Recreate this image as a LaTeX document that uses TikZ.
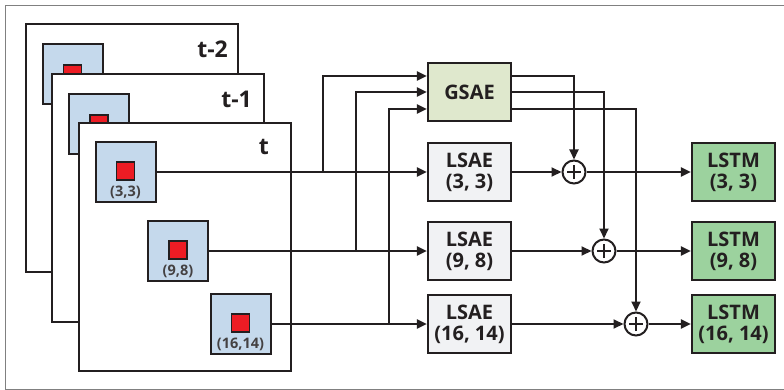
\documentclass[tikz,border=0pt]{standalone}
\usepackage{fontspec}
\setmainfont{Open Sans}
\usetikzlibrary{arrows.meta,calc}
\definecolor{ink}{HTML}{231F20}
\definecolor{patchblue}{HTML}{C5D9EC}
\definecolor{redsq}{HTML}{ED1C24}
\definecolor{gsaefill}{HTML}{DFE8CD}
\definecolor{lsaefill}{HTML}{F1F2F4}
\definecolor{lstmfill}{HTML}{9CD29E}
\definecolor{bordergray}{HTML}{808080}
\begin{document}
\begin{tikzpicture}[x=1pt,y=-1pt,
  frame/.style={draw=ink,line width=2.6pt,fill=white,minimum width=212pt,minimum height=248pt,inner sep=0pt},
  patch/.style={draw=ink,line width=2pt,fill=patchblue,minimum size=60pt,inner sep=0pt},
  redbox/.style={draw=ink,line width=1.8pt,fill=redsq,minimum size=18pt,inner sep=0pt},
  plabel/.style={font=\bfseries\fontsize{14.5}{16}\selectfont,text=ink!85,inner sep=0pt},
  flabel/.style={font=\bfseries\fontsize{23}{26}\selectfont,text=ink,inner sep=0pt},
  block/.style={draw=ink,line width=2.2pt,minimum width=83pt,minimum height=58pt,inner sep=0pt,align=center,font=\bfseries\fontsize{20}{21}\selectfont,text=ink},
  sum/.style={circle,draw=ink,line width=2pt,minimum size=23pt,inner sep=0pt,
    path picture={\draw[ink,line width=1.8pt]
      ([xshift=-7pt]path picture bounding box.center) -- ([xshift=7pt]path picture bounding box.center)
      ([yshift=-7pt]path picture bounding box.center) -- ([yshift=7pt]path picture bounding box.center);}},
  conn/.style={draw=ink,line width=2pt},
  arr/.style={conn,-{Triangle[length=10pt,width=9pt]}}
]
\useasboundingbox (0,0) rectangle (784,390);
\draw[bordergray,line width=1pt] (784,6) -- (5.5,6) -- (5.5,389) -- (784,389);

% frame t-2
\node[frame] (f2) at (132,148) {};
\node[flabel,anchor=east] (f2l) at (228,49) {t-2};
\node[patch] (q2) at (72.5,74) {};
\node[redbox] (r2) at (q2) {};
% frame t-1
\node[frame] (f1) at (158,198) {};
\node[flabel,anchor=east] (f1l) at (252,99) {t-1};
\node[patch] (q1) at (99,124) {};
\node[redbox] (r1) at (q1) {};
% frame t
\node[frame] (f0) at (185,247) {};
\node[flabel,anchor=east] (f0l) at (269,147) {t};

\node[patch] (p1) at (125.5,172) {};
\node[redbox] (rp1) at ([yshift=1pt]p1.center) {};
\node[plabel] (lp1) at ([yshift=-20.5pt]p1.center) {(3,3)};
\node[patch] (p2) at (178,251) {};
\node[redbox] (rp2) at ([yshift=1pt]p2.center) {};
\node[plabel] (lp2) at ([yshift=-20.5pt]p2.center) {(9,8)};
\node[patch] (p3) at (240.5,324) {};
\node[redbox] (rp3) at ([yshift=1pt]p3.center) {};
\node[plabel] (lp3) at ([yshift=-20.5pt]p3.center) {(16,14)};

% blocks
\node[block,fill=gsaefill] (g) at (469.5,92) {GSAE};
\node[block,fill=lsaefill] (l1) at (469.5,172) {LSAE\\(3, 3)};
\node[block,fill=lsaefill] (l2) at (469.5,251) {LSAE\\(9, 8)};
\node[block,fill=lsaefill] (l3) at (469.5,324) {LSAE\\(16, 14)};
\node[sum] (c1) at (574,172) {};
\node[sum] (c2) at (604,251) {};
\node[sum] (c3) at (636,324) {};
\node[block,fill=lstmfill] (m1) at (733.5,172) {LSTM\\(3, 3)};
\node[block,fill=lstmfill] (m2) at (733.5,251) {LSTM\\(9, 8)};
\node[block,fill=lstmfill] (m3) at (733.5,324) {LSTM\\(16, 14)};

\coordinate (y1) at (0,76);
\coordinate (y2) at (0,92);
\coordinate (y3) at (0,109);
\coordinate (j1) at (323,172);
\coordinate (j2) at (356,251);
\coordinate (j3) at (389,324);

% connectors
\draw[arr] (p1.east) -- (l1.west);
\draw[arr] (p2.east) -- (l2.west);
\draw[arr] (p3.east) -- (l3.west);
\draw[arr] (j1) |- (g.west |- y1);
\draw[arr] (j2) |- (g.west |- y2);
\draw[arr] (j3) |- (g.west |- y3);
\draw[arr] (g.east |- y1) -| (c1.north);
\draw[arr] (g.east |- y2) -| (c2.north);
\draw[arr] (g.east |- y3) -| (c3.north);
\draw[arr] (l1.east) -- (c1.west);
\draw[arr] (l2.east) -- (c2.west);
\draw[arr] (l3.east) -- (c3.west);
\draw[arr] (c1.east) -- (m1.west);
\draw[arr] (c2.east) -- (m2.west);
\draw[arr] (c3.east) -- (m3.west);
\end{tikzpicture}
\end{document}
